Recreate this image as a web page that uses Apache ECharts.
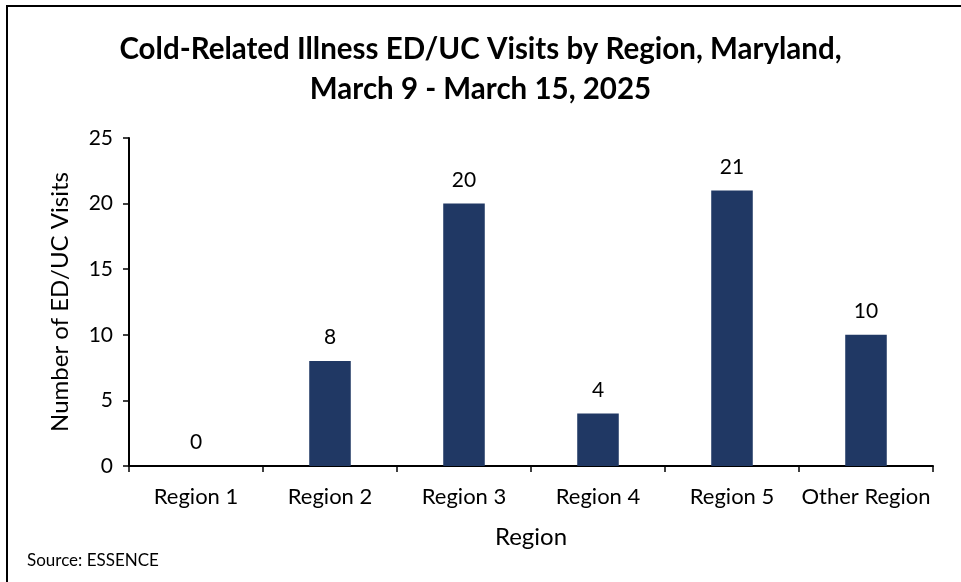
<!DOCTYPE html>
<html>
<head>
<meta charset="utf-8">
<script src="https://cdn.jsdelivr.net/npm/echarts@6/dist/echarts.min.js"></script>
<style>
  html, body { margin: 0; padding: 0; background: #fff; }
  #chart { width: 961px; height: 582px; }
</style>
</head>
<body>
<div id="chart"></div>
<script>
// regions and weekly visit counts
const regions = ['Region 1', 'Region 2', 'Region 3', 'Region 4', 'Region 5', 'Other Region']
const visits = [0, 8, 20, 4, 21, 10]
const yTicks = [0, 5, 10, 15, 20, 25]

const FONT = 'Lato, "Open Sans", sans-serif'
const chart = echarts.init(document.getElementById('chart'))

chart.setOption({
  backgroundColor: '#fff',
  animation: false,
  title: {
    text: 'Cold-Related Illness ED/UC Visits by Region, Maryland,\nMarch 9 - March 15, 2025',
    left: 'center',
    top: 24,
    textStyle: { fontFamily: FONT, fontSize: 29.5, fontWeight: 'bold', color: '#000', lineHeight: 40 }
  },
  graphic: [
    // outer frame (top + left visible)
    { type: 'rect', shape: { x: 7, y: 6, width: 1200, height: 1200 },
      style: { fill: 'none', stroke: '#000', lineWidth: 2 }, silent: true },
    { type: 'text', left: 27, top: 552,
      style: { text: 'Source: ESSENCE', fontFamily: FONT, fontSize: 17, fill: '#000' } }
  ],
  grid: { left: 129, right: 28, top: 138, bottom: 116 },
  xAxis: {
    type: 'category',
    data: regions,
    name: 'Region',
    nameLocation: 'middle',
    nameGap: 59,
    nameTextStyle: { fontFamily: FONT, fontSize: 24, color: '#000' },
    axisLine: { lineStyle: { color: '#000', width: 2 } },
    axisTick: { show: true, interval: 0, length: 6, lineStyle: { color: '#000', width: 1.5 } },
    axisLabel: { interval: 0, margin: 20, fontFamily: FONT, fontSize: 22, color: '#000' }
  },
  yAxis: {
    type: 'value',
    min: yTicks[0],
    max: yTicks[yTicks.length - 1],
    interval: 5,
    name: 'Number of ED/UC Visits',
    nameLocation: 'middle',
    nameGap: 57,
    nameTextStyle: { fontFamily: FONT, fontSize: 24, color: '#000' },
    axisLine: { show: true, lineStyle: { color: '#000', width: 2 } },
    axisTick: { show: true, length: 6, lineStyle: { color: '#000', width: 1.5 } },
    axisLabel: { margin: 16, fontFamily: FONT, fontSize: 21, color: '#000' },
    splitLine: { show: false }
  },
  series: [{
    type: 'bar',
    data: visits,
    barWidth: '31%',
    itemStyle: { color: '#203864' },
    label: {
      show: true,
      position: 'top',
      distance: 13,
      fontFamily: FONT,
      fontSize: 21,
      color: '#000'
    }
  }]
})
</script>
</body>
</html>
